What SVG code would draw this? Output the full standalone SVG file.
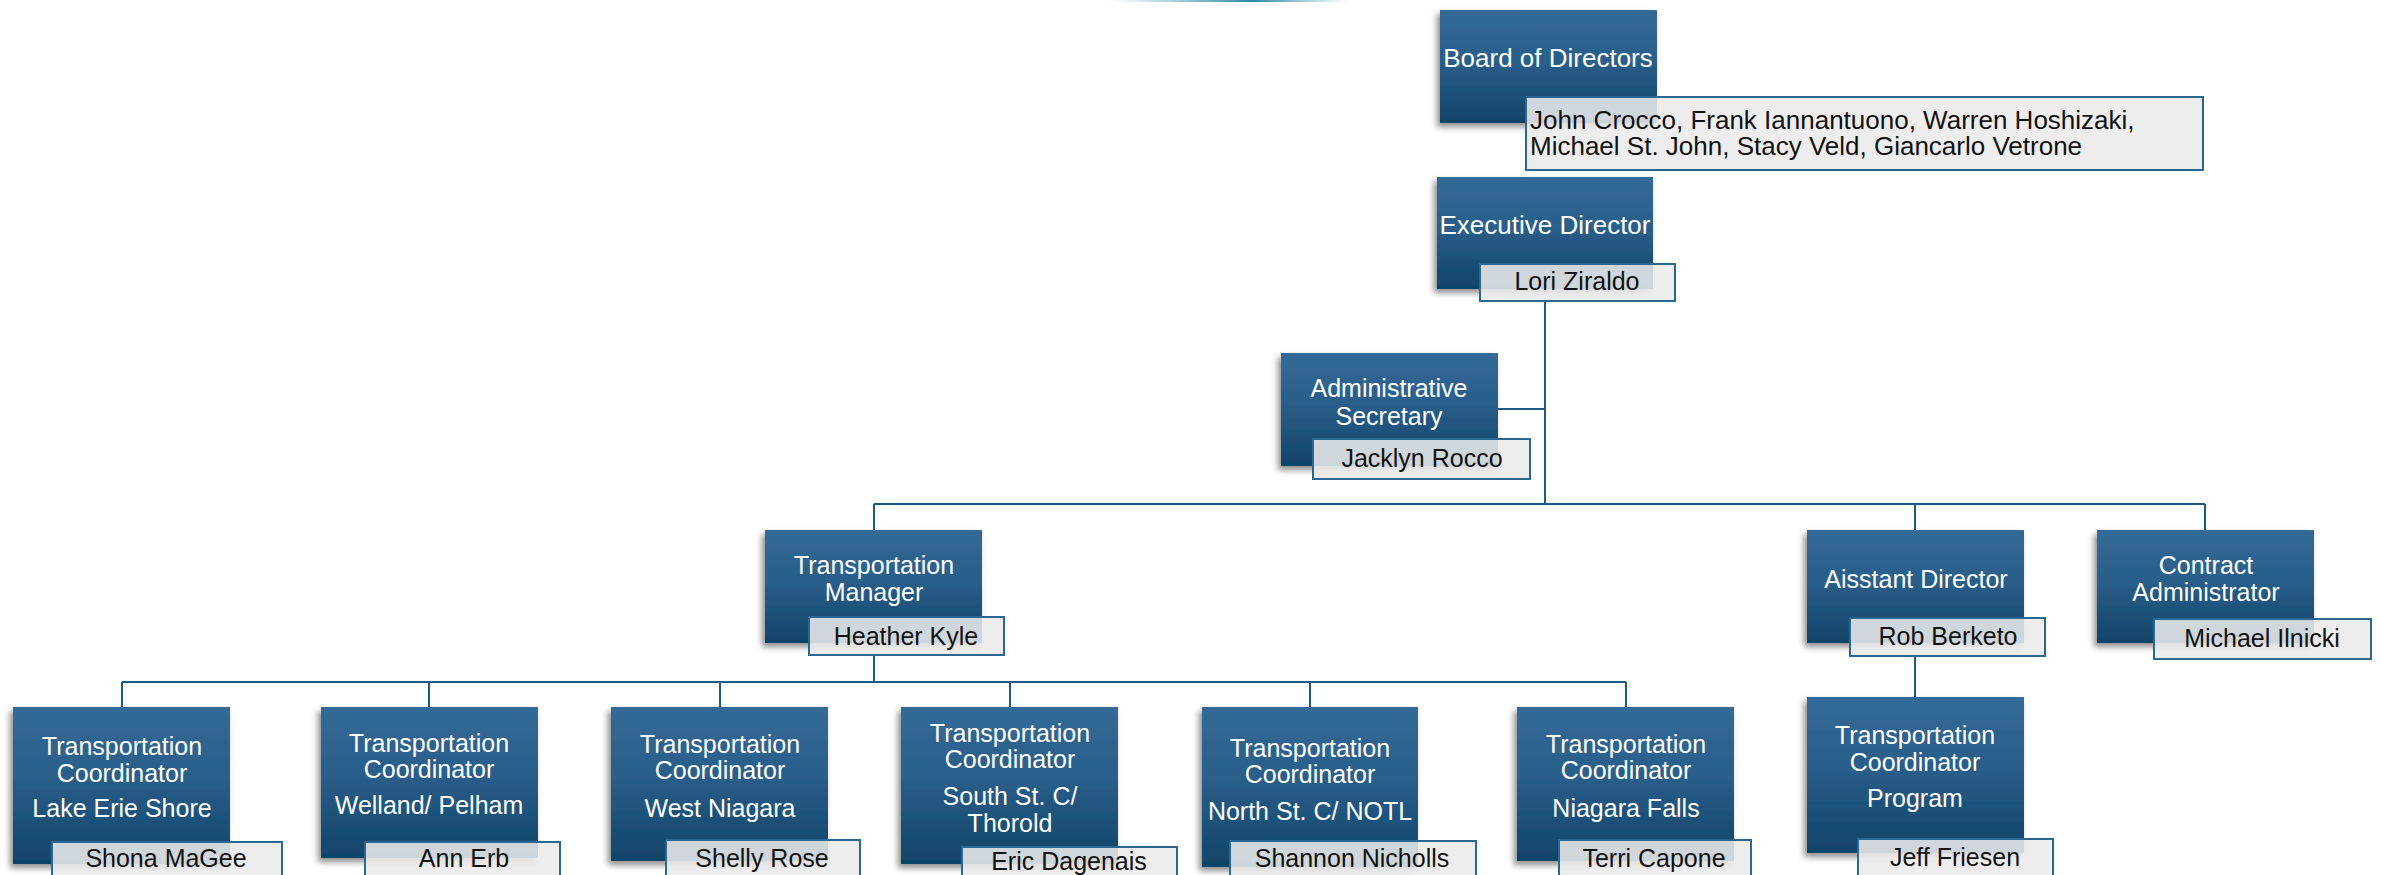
<svg xmlns="http://www.w3.org/2000/svg" width="2381" height="875" viewBox="0 0 2381 875">
<defs>
<linearGradient id="boxg" x1="0" y1="0" x2="0" y2="1">
<stop offset="0" stop-color="#346a97"/>
<stop offset="0.45" stop-color="#2a5e8a"/>
<stop offset="1" stop-color="#104468"/>
</linearGradient>
<linearGradient id="arcg" x1="0" y1="0" x2="1" y2="0">
<stop offset="0" stop-color="#4a9ab0" stop-opacity="0"/>
<stop offset="0.6" stop-color="#2a8aa6" stop-opacity="1"/>
<stop offset="1" stop-color="#4a9ab0" stop-opacity="0"/>
</linearGradient>
<filter id="sh" x="-10%" y="-10%" width="120%" height="125%">
<feDropShadow dx="-3" dy="4" stdDeviation="3" flood-color="#000" flood-opacity="0.45"/>
</filter>
</defs>
<style>
.box{fill:url(#boxg);filter:url(#sh);}
.nm{fill:#ebebeb;fill-opacity:0.88;stroke:#2b6791;stroke-width:2;}
.t{font-family:"Liberation Sans",Arial,sans-serif;font-size:25px;fill:#ffffff;text-anchor:middle;}
.n{font-family:"Liberation Sans",Arial,sans-serif;font-size:25px;fill:#111111;text-anchor:middle;}
.big{font-size:26px;}
.st{text-anchor:start;}
.c{stroke:#1f5a86;stroke-width:2;fill:none;}
</style>
<rect x="1108" y="0" width="242" height="2" fill="url(#arcg)"/>
<g id="connectors">
<path class="c" d="M1545 301V504"/>
<path class="c" d="M1498 409H1545"/>
<path class="c" d="M874 504H2205"/>
<path class="c" d="M874 504V530M1915 504V530M2205 504V530"/>
<path class="c" d="M874 655V682"/>
<path class="c" d="M122 682H1626"/>
<path class="c" d="M122 682V707M429 682V707M720 682V707M1010 682V707M1310 682V707M1626 682V707"/>
<path class="c" d="M1915 656V697"/>
</g>
<g id="board">
<rect class="box" x="1440" y="10" width="217" height="113"/>
<text class="t big" x="1548" y="67">Board of Directors</text>
<rect class="nm" x="1526" y="97" width="677" height="73"/>
<text class="n big st" x="1530" y="129">John Crocco, Frank Iannantuono, Warren Hoshizaki,</text>
<text class="n big st" x="1530" y="155">Michael St. John, Stacy Veld, Giancarlo Vetrone</text>
</g>
<g id="exec">
<rect class="box" x="1437" y="177" width="216" height="112"/>
<text class="t big" x="1545" y="234">Executive Director</text>
<rect class="nm" x="1480" y="264" width="195" height="37"/>
<text class="n" x="1577" y="290">Lori Ziraldo</text>
</g>
<g id="admin">
<rect class="box" x="1281" y="353" width="217" height="113"/>
<text class="t" x="1389" y="397">Administrative</text>
<text class="t" x="1389" y="425">Secretary</text>
<rect class="nm" x="1313" y="439" width="217" height="40"/>
<text class="n" x="1422" y="467">Jacklyn Rocco</text>
</g>
<g id="manager">
<rect class="box" x="765" y="530" width="217" height="113"/>
<text class="t" x="874" y="574">Transportation</text>
<text class="t" x="874" y="601">Manager</text>
<rect class="nm" x="809" y="617" width="195" height="38"/>
<text class="n" x="906" y="645">Heather Kyle</text>
</g>
<g id="assistant">
<rect class="box" x="1807" y="530" width="217" height="113"/>
<text class="t" x="1916" y="588">Aisstant Director</text>
<rect class="nm" x="1850" y="618" width="195" height="38"/>
<text class="n" x="1948" y="645">Rob Berketo</text>
</g>
<g id="contract">
<rect class="box" x="2097" y="530" width="217" height="113"/>
<text class="t" x="2206" y="574">Contract</text>
<text class="t" x="2206" y="601">Administrator</text>
<rect class="nm" x="2154" y="619" width="217" height="40"/>
<text class="n" x="2262" y="647">Michael Ilnicki</text>
</g>
<g id="program">
<rect class="box" x="1807" y="697" width="217" height="156"/>
<text class="t" x="1915" y="744">Transportation</text>
<text class="t" x="1915" y="771">Coordinator</text>
<text class="t" x="1915" y="807">Program</text>
<rect class="nm" x="1858" y="839" width="195" height="45"/>
<text class="n" x="1955" y="866">Jeff Friesen</text>
</g>
<g id="coord1">
<rect class="box" x="13" y="707" width="217" height="157"/>
<text class="t" x="122" y="755">Transportation</text>
<text class="t" x="122" y="782">Coordinator</text>
<text class="t" x="122" y="817">Lake Erie Shore</text>
<rect class="nm" x="52" y="842" width="230" height="45"/>
<text class="n" x="166" y="867">Shona MaGee</text>
</g>
<g id="coord2">
<rect class="box" x="321" y="707" width="217" height="151"/>
<text class="t" x="429" y="752">Transportation</text>
<text class="t" x="429" y="778">Coordinator</text>
<text class="t" x="429" y="814">Welland/ Pelham</text>
<rect class="nm" x="365" y="842" width="195" height="45"/>
<text class="n" x="464" y="867">Ann Erb</text>
</g>
<g id="coord3">
<rect class="box" x="611" y="707" width="217" height="154"/>
<text class="t" x="720" y="753">Transportation</text>
<text class="t" x="720" y="779">Coordinator</text>
<text class="t" x="720" y="817">West Niagara</text>
<rect class="nm" x="666" y="840" width="194" height="45"/>
<text class="n" x="762" y="867">Shelly Rose</text>
</g>
<g id="coord4">
<rect class="box" x="901" y="707" width="217" height="157"/>
<text class="t" x="1010" y="742">Transportation</text>
<text class="t" x="1010" y="768">Coordinator</text>
<text class="t" x="1010" y="805">South St. C/</text>
<text class="t" x="1010" y="832">Thorold</text>
<rect class="nm" x="962" y="847" width="215" height="45"/>
<text class="n" x="1069" y="870">Eric Dagenais</text>
</g>
<g id="coord5">
<rect class="box" x="1202" y="707" width="216" height="160"/>
<text class="t" x="1310" y="757">Transportation</text>
<text class="t" x="1310" y="783">Coordinator</text>
<text class="t" x="1310" y="820">North St. C/ NOTL</text>
<rect class="nm" x="1230" y="841" width="246" height="45"/>
<text class="n" x="1352" y="867">Shannon Nicholls</text>
</g>
<g id="coord6">
<rect class="box" x="1517" y="707" width="217" height="154"/>
<text class="t" x="1626" y="753">Transportation</text>
<text class="t" x="1626" y="779">Coordinator</text>
<text class="t" x="1626" y="817">Niagara Falls</text>
<rect class="nm" x="1559" y="840" width="192" height="45"/>
<text class="n" x="1654" y="867">Terri Capone</text>
</g>
</svg>
